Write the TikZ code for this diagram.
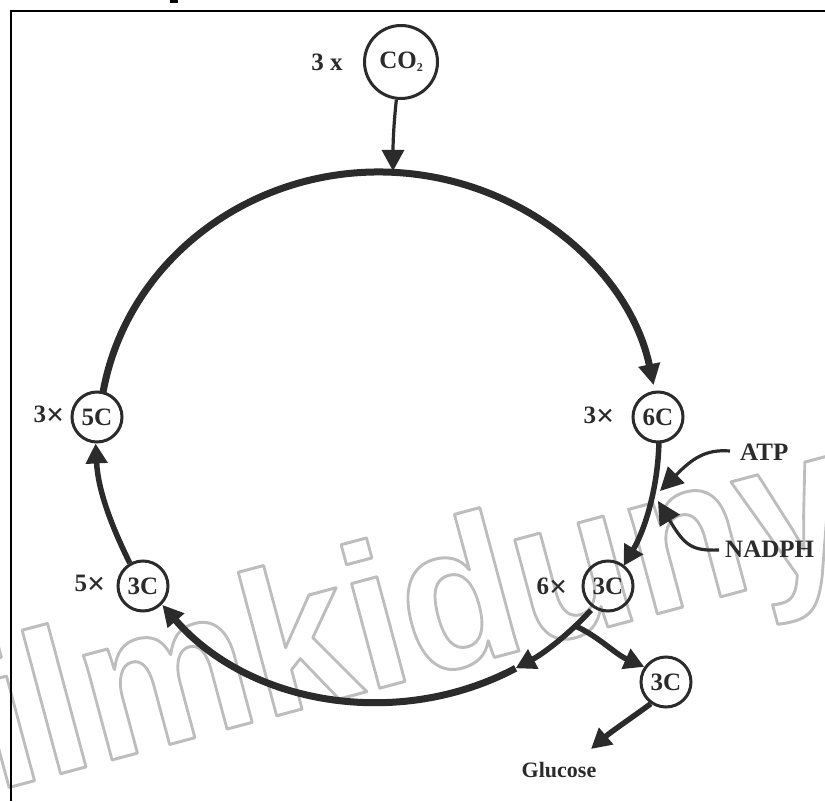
\documentclass[tikz,border=0pt]{standalone}
\usepackage{fontspec}
\setmainfont{Liberation Serif}
\newfontfamily\wmfont{Liberation Sans}
\usetikzlibrary{arrows.meta}
\definecolor{ink}{HTML}{2B2B2B}
\newcommand{\bigx}{{\fontsize{32}{25}\selectfont\raisebox{-0.1em}{×}}}
\tikzset{
  x=1pt,y=1pt,
  cyc/.style={circle,draw=ink,line width=3pt,inner sep=0pt,minimum size=50pt,text=ink,
    font=\fontsize{25}{25}\selectfont\bfseries},
  lab/.style={text=ink,inner sep=0pt,font=\fontsize{25}{25}\selectfont\bfseries},
  ring/.style={draw=ink,line width=7pt,-{Triangle[length=21pt,width=21pt]}},
  thin arrow/.style={draw=ink,line width=3.2pt,-{Triangle[length=23pt,width=23pt]}},
  mid arrow/.style={draw=ink,line width=5.5pt,-{Triangle[length=20pt,width=21pt]}}
}
\begin{document}
\begin{tikzpicture}
\useasboundingbox (0,0) rectangle (825,801);
% watermark
\begin{scope}
\clip (0,0) rectangle (825,801);
\node[anchor=base west,inner sep=0pt,rotate=15,xscale=0.935] (wm) at (-4,10)
  {\special{pdf:code q 0.74 G 3 w 1 j 1 Tr}\wmfont\bfseries\fontsize{205}{205}\selectfont ilmkiduny\special{pdf:code 0 Tr Q}};
\end{scope}
% frame
\coordinate (f1) at (11,0);
\coordinate (f2) at (11,790);
\coordinate (f3) at (825,790);
\draw[black,line width=2.6pt] (f1) -- (f2) -- (f3);
\fill[black] (170,798) rectangle (178,801);
% nodes
\node[cyc,minimum size=73pt] (co2) at (401,739) {CO\raisebox{-0.25ex}{\fontsize{12}{12}\selectfont 2}};
\node[cyc] (c6) at (658,384) {6C};
\node[cyc] (c3a) at (608,215) {3C};
\node[cyc] (c3c) at (666,119) {3C};
\node[cyc] (c5) at (97,384) {5C};
\node[cyc] (c3b) at (143,215) {3C};
% labels
\node[lab] (l1) at (327,739) {3 x};
\node[lab] (l2) at (599,384) {3\bigx};
\node[lab] (l3) at (552,213) {6\bigx};
\node[lab] (l4) at (90,216) {5\bigx};
\node[lab] (l5) at (49,385) {3\bigx};
\node[lab,anchor=west] (atp) at (740,349) {ATP};
\node[lab,anchor=west] (nadph) at (725,252) {NADPH};
\node[lab,font=\fontsize{22}{22}\selectfont\bfseries] (glu) at (559,31) {Glucose};
% ring
\coordinate (c) at (379,364);
\path (c) ++(170.2:280pt and 265pt) coordinate (r1);
\path (c) ++(-1.3:280pt and 265pt) coordinate (r2);
\path (c) ++(-40.8:280pt and 265pt) coordinate (r3);
\path (c) ++(-60.8:280pt and 265pt) coordinate (r4);
\path (c) ++(-45.5:280pt and 265pt) coordinate (br);
\draw[ring] (r1) arc[start angle=170.2,end angle=11.3,x radius=280pt,y radius=265pt];
\draw[mid arrow] (r2) arc[start angle=-1.3,end angle=-29.1,x radius=280pt,y radius=265pt];
\draw[mid arrow] (r3) arc[start angle=-40.8,end angle=-60.8,x radius=280pt,y radius=265pt];
\draw[ring] (r4) arc[start angle=-60.8,end angle=-140.7,x radius=280pt,y radius=265pt];
\draw[mid arrow] (c3b.120) .. controls (111,276) and (98,311) .. (c5.-93);
% inputs
\coordinate (top) at (393,630);
\draw[draw=ink,line width=3.2pt,-{Triangle[length=21pt,width=22pt]}] (co2.-97) .. controls (394,680) and (393,660) .. (top);
\coordinate (atpend) at (660,310);
\coordinate (nadend) at (658,300);
\coordinate (atps) at (730,350);
\coordinate (nads) at (719,251);
\draw[thin arrow] (atps) .. controls (705,352) and (692,342) .. (atpend);
\draw[thin arrow] (nads) .. controls (692,250) and (685,255) .. (nadend);
% branch
\coordinate (gtip) at (591,52);
\draw[mid arrow] (br) .. controls (598,165) and (615,147) .. (c3c.145);
\draw[mid arrow] (c3c.-125) .. controls (630,82) and (612,70) .. (gtip);
\end{tikzpicture}
\end{document}
